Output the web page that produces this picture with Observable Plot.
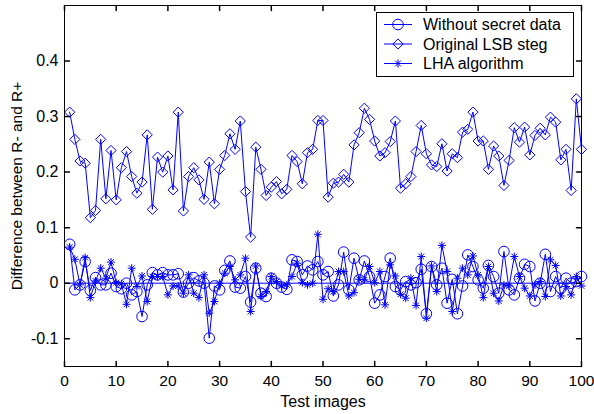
<!DOCTYPE html>
<html><head><meta charset="utf-8">
<script src="https://cdn.jsdelivr.net/npm/d3@7"></script>
<script src="https://cdn.jsdelivr.net/npm/@observablehq/plot@0.6"></script>
<style>
body{margin:0;background:#fff;}
#wrap{position:relative;width:594px;height:414px;font-family:"Liberation Sans",Arial,sans-serif;}
#legend{position:absolute;}
</style></head><body><div id="wrap"></div>
<script>
const seriesNames = ["Without secret data", "Original LSB steg", "LHA algorithm"];
const testImages = [1,2,3,4,5,6,7,8,9,10,11,12,13,14,15,16,17,18,19,20,21,22,23,24,25,26,27,28,29,30,31,32,33,34,35,36,37,38,39,40,41,42,43,44,45,46,47,48,49,50,51,52,53,54,55,56,57,58,59,60,61,62,63,64,65,66,67,68,69,70,71,72,73,74,75,76,77,78,79,80,81,82,83,84,85,86,87,88,89,90,91,92,93,94,95,96,97,98,99,100];
const withoutSecret = [0.070,-0.012,-0.003,0.039,-0.013,0.010,-0.003,-0.003,0.018,-0.006,
  -0.010,0.000,-0.021,-0.015,-0.060,-0.003,0.019,0.015,0.019,0.015,
  0.015,0.017,-0.016,0.000,0.010,0.004,0.000,-0.099,-0.005,-0.012,
  0.023,0.040,-0.007,-0.009,0.012,-0.034,0.027,-0.018,-0.024,0.009,
  0.000,-0.007,-0.011,0.042,0.039,0.015,0.031,0.024,0.039,0.015,
  0.021,-0.023,-0.003,0.056,-0.012,0.045,0.006,0.040,0.012,-0.036,
  -0.021,0.012,0.045,-0.006,-0.012,0.003,-0.003,0.001,0.025,-0.055,
  0.030,-0.003,0.027,-0.036,0.007,-0.055,-0.005,0.051,0.030,0.006,
  -0.009,0.032,0.012,-0.018,0.057,-0.012,-0.021,0.009,0.034,0.030,
  -0.032,0.000,0.052,-0.015,0.012,-0.009,0.009,0.000,0.003,0.012];
const originalLSB = [0.308,0.259,0.220,0.216,0.118,0.131,0.259,0.152,0.239,0.150,
  0.208,0.237,0.192,0.162,0.182,0.267,0.133,0.227,0.200,0.229,
  0.168,0.308,0.130,0.192,0.208,0.186,0.151,0.218,0.143,0.205,
  0.230,0.269,0.241,0.292,0.165,0.083,0.245,0.205,0.158,0.173,
  0.183,0.161,0.169,0.230,0.219,0.179,0.235,0.241,0.293,0.293,
  0.155,0.180,0.182,0.196,0.182,0.249,0.271,0.315,0.295,0.256,
  0.229,0.235,0.255,0.292,0.171,0.179,0.192,0.237,0.284,0.233,
  0.213,0.210,0.251,0.202,0.233,0.226,0.272,0.277,0.308,0.256,
  0.256,0.205,0.247,0.229,0.176,0.221,0.280,0.254,0.281,0.231,
  0.266,0.279,0.267,0.299,0.290,0.222,0.241,0.167,0.332,0.241];
const lhaAlgorithm = [0.065,0.043,-0.003,0.046,-0.026,0.004,0.027,0.009,0.038,0.001,
  -0.001,-0.038,0.027,-0.006,0.013,-0.033,0.012,0.012,0.012,-0.021,
  -0.005,-0.005,-0.018,0.015,-0.018,-0.026,0.015,-0.054,-0.033,0.000,
  0.018,0.030,0.006,0.015,0.045,-0.051,0.031,-0.024,-0.015,0.012,
  0.003,-0.005,-0.003,0.012,0.036,0.001,-0.003,0.000,0.088,-0.029,
  -0.010,-0.015,0.021,0.021,-0.023,-0.017,0.007,0.006,0.030,0.001,
  0.021,-0.039,0.033,0.013,-0.020,-0.027,0.009,-0.040,0.048,-0.063,
  0.031,-0.015,0.068,0.021,-0.051,0.009,0.027,0.015,0.049,0.015,
  -0.026,0.030,-0.018,-0.032,-0.003,-0.005,0.048,0.012,-0.009,-0.023,
  -0.003,0.003,-0.024,0.042,0.032,-0.023,-0.006,-0.021,0.012,-0.005];
const xTicks = [0,10,20,30,40,50,60,70,80,90,100];
const yTicks = [-0.1,0,0.1,0.2,0.3,0.4];
const xLabel = "Test images";
const yLabel = "Difference between R- and R+";

const blue = "#0000ff";
const font = "'Liberation Sans', Arial, sans-serif";
const rows = (vals) => testImages.map((x, i) => ({x, y: vals[i]}));
const dCirc = rows(withoutSecret), dDiam = rows(originalLSB), dStar = rows(lhaAlgorithm);

const star = {draw(ctx, size) {
  const r = Math.sqrt(size / Math.PI), d = r * 0.72;
  ctx.moveTo(0, -r); ctx.lineTo(0, r);
  ctx.moveTo(-r, 0); ctx.lineTo(r, 0);
  ctx.moveTo(-d, -d); ctx.lineTo(d, d);
  ctx.moveTo(-d, d); ctx.lineTo(d, -d);
}};
const tickShape = {draw(ctx, l) { ctx.moveTo(0, 0); ctx.lineTo(0, -l); }};

const chart = Plot.plot({
  width: 594, height: 414,
  marginLeft: 64, marginRight: 13, marginTop: 5, marginBottom: 48,
  style: {fontFamily: font, fontSize: "16px", color: "black", background: "white", overflow: "visible"},
  x: {domain: [0, 100]},
  y: {domain: [-0.15, 0.5]},
  marks: [
    Plot.ruleY([0], {stroke: blue, strokeWidth: 1}),
    Plot.line(dCirc, {x: "x", y: "y", stroke: blue, strokeWidth: 1}),
    Plot.dot(dCirc, {x: "x", y: "y", symbol: "circle", r: 5.3, fill: "none", stroke: blue, strokeWidth: 1}),
    Plot.line(dDiam, {x: "x", y: "y", stroke: blue, strokeWidth: 1}),
    Plot.dot(dDiam, {x: "x", y: "y", symbol: "diamond2", r: 4.6, fill: "none", stroke: blue, strokeWidth: 1}),
    Plot.line(dStar, {x: "x", y: "y", stroke: blue, strokeWidth: 1}),
    Plot.dot(dStar, {x: "x", y: "y", symbol: star, r: 4, fill: "none", stroke: blue, strokeWidth: 1}),
    Plot.frame({stroke: "black", strokeWidth: 1}),
    Plot.vector(xTicks, {x: d => d, frameAnchor: "bottom", length: 5, rotate: 0, anchor: "start", shape: tickShape, stroke: "black"}),
    Plot.vector(xTicks, {x: d => d, frameAnchor: "top", length: 5, rotate: 180, anchor: "start", shape: tickShape, stroke: "black"}),
    Plot.vector(yTicks, {y: d => d, frameAnchor: "left", length: 5, rotate: 90, anchor: "start", shape: tickShape, stroke: "black"}),
    Plot.vector(yTicks, {y: d => d, frameAnchor: "right", length: 5, rotate: -90, anchor: "start", shape: tickShape, stroke: "black"}),
    Plot.axisX(xTicks, {anchor: "bottom", tickSize: 0, tickPadding: 8, tickFormat: d => String(d), label: null, fontSize: 15.5}),
    Plot.axisY(yTicks, {anchor: "left", tickSize: 0, tickPadding: 6, tickFormat: d => String(d), label: null, fontSize: 16}),
    Plot.text([xLabel], {frameAnchor: "bottom", dy: 35, fontSize: 16, lineAnchor: "middle", textAnchor: "middle", fill: "black"}),
    Plot.text([yLabel], {frameAnchor: "left", dx: -47, rotate: -90, fontSize: 15.5, lineAnchor: "middle", textAnchor: "middle", fill: "black"})
  ]
});
const wrap = document.getElementById("wrap");
wrap.appendChild(chart);

// Legend
const lg = d3.create("svg").attr("id", "legend").attr("width", 198).attr("height", 65)
  .style("left", "376px").style("top", "12px").style("position", "absolute");
lg.append("rect").attr("x", 0.5).attr("y", 0.5).attr("width", 197).attr("height", 64)
  .attr("fill", "white").attr("stroke", "black");
const legendSymbols = [d3.symbolCircle, d3.symbolDiamond2, star];
const legendSizes = [Math.PI * 5.3 * 5.3, Math.PI * 4.6 * 4.6, Math.PI * 16];
seriesNames.forEach((name, i) => {
  const cy = 12.5 + i * 19.5;
  lg.append("line").attr("x1", 8).attr("x2", 36).attr("y1", cy).attr("y2", cy).attr("stroke", blue);
  lg.append("path").attr("d", d3.symbol(legendSymbols[i], legendSizes[i])())
    .attr("transform", `translate(22,${cy})`).attr("fill", "none").attr("stroke", blue);
  lg.append("text").attr("x", 47).attr("y", cy).attr("dy", "0.35em")
    .attr("font-family", font).attr("font-size", 16).attr("fill", "black").text(name);
});
wrap.appendChild(lg.node());
</script></body></html>
